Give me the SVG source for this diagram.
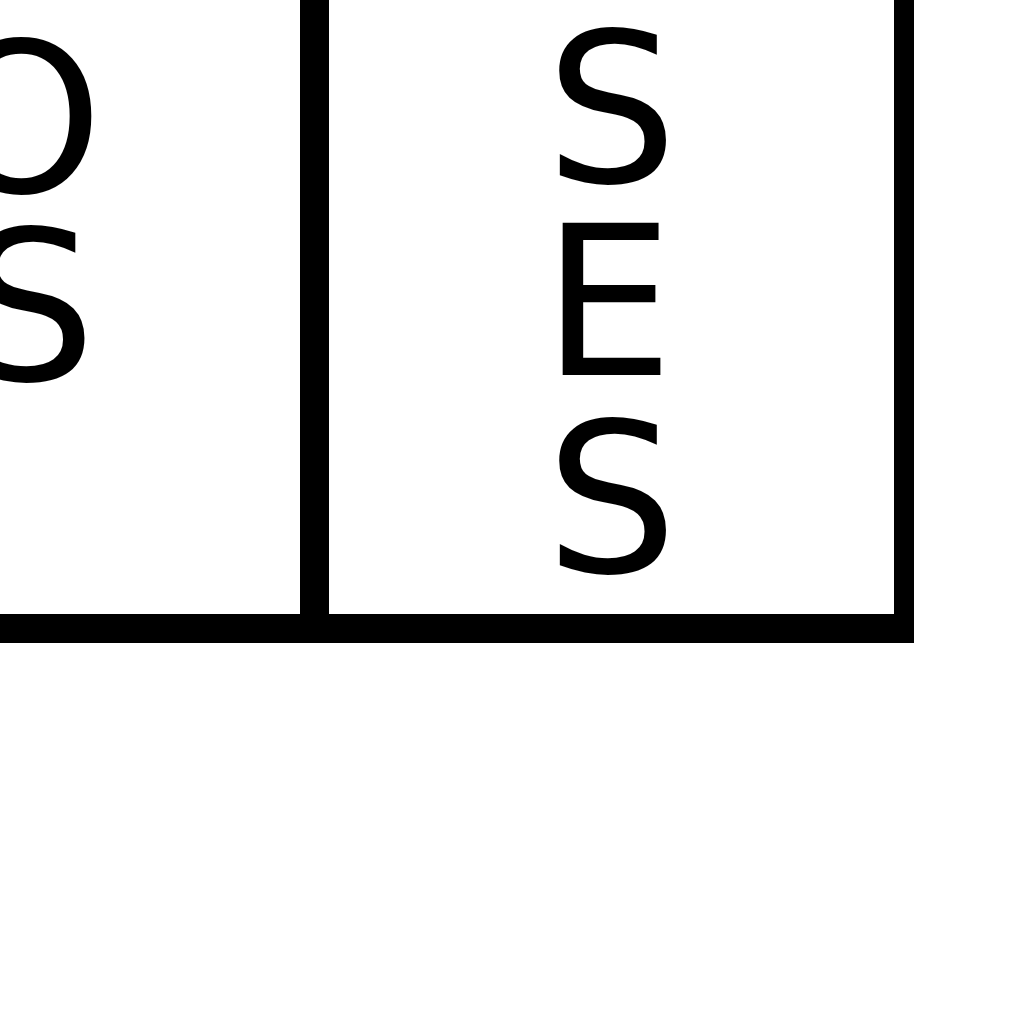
<svg xmlns="http://www.w3.org/2000/svg" width="1024" height="1024" viewBox="0 0 1024 1024">
  <style>
    .rule { fill: #000000; }
    .lbl { font-family: "DejaVu Sans", "Liberation Sans", sans-serif; font-size: 208px; fill: #000000; text-anchor: middle; }
  </style>
  <rect x="0" y="0" width="1024" height="1024" fill="#ffffff"/>
  <g id="cell-left">
    <text class="lbl"><tspan x="21" y="192">O</tspan><tspan x="30" y="380">S</tspan></text>
  </g>
  <g id="cell-right">
    <text class="lbl"><tspan x="611.5" y="182">S</tspan><tspan x="608" y="375">E</tspan><tspan x="611.5" y="572">S</tspan></text>
  </g>
  <g id="grid-lines">
    <rect class="rule" x="300" y="0" width="29" height="643"/>
    <rect class="rule" x="894" y="0" width="20" height="643"/>
    <rect class="rule" x="0" y="614" width="914" height="29"/>
  </g>
</svg>
